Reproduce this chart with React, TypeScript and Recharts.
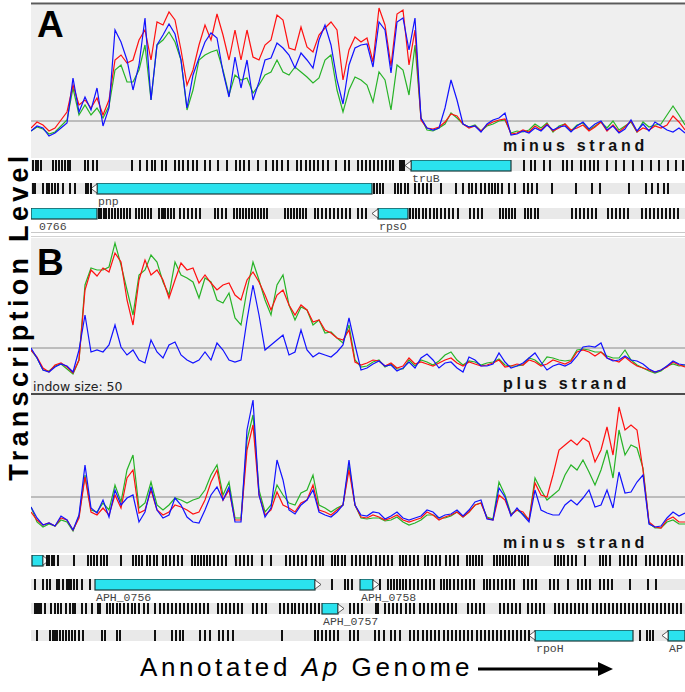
import React from "react";
import {
  LineChart, Line, XAxis, YAxis, ReferenceLine,
  ScatterChart, Scatter, ReferenceArea,
} from "recharts";

// panel A, minus strand (signal units above the panel floor)
const aRed = [
  22, 28, 25, 19, 22, 30, 38, 65, 45, 50,
  42, 52, 35, 50, 90, 95, 87, 90, 110, 120,
  90, 128, 125, 138, 130, 100, 65, 80, 105, 125,
  110, 136, 115, 90, 120, 90, 120, 93, 90, 105,
  110, 135, 130, 102, 100, 123, 103, 98, 115, 122,
  128, 120, 70, 100, 113, 108, 112, 88, 142, 125,
  84, 136, 140, 85, 120, 30, 22, 21, 23, 28,
  36, 34, 26, 22, 24, 19, 25, 28, 30, 31,
  16, 17, 20, 18, 24, 20, 26, 19, 22, 26,
  20, 22, 25, 19, 23, 28, 19, 25, 18, 23,
  29, 18, 22, 20, 24, 22, 25, 34, 28, 20,
];
const aGreen = [
  19, 23, 21, 16, 18, 24, 30, 62, 35, 45,
  35, 42, 32, 44, 80, 85, 68, 68, 80, 105,
  50, 105, 110, 118, 108, 90, 40, 60, 90, 95,
  98, 100, 80, 55, 75, 70, 72, 57, 65, 75,
  78, 90, 78, 75, 83, 78, 73, 67, 72, 90,
  95, 60, 38, 60, 73, 70, 65, 48, 78, 70,
  40, 85, 80, 55, 105, 32, 20, 19, 22, 26,
  37, 32, 26, 23, 25, 19, 24, 26, 29, 30,
  17, 19, 18, 20, 26, 22, 27, 18, 24, 26,
  19, 25, 27, 20, 24, 28, 22, 29, 20, 24,
  28, 18, 28, 23, 25, 26, 35, 44, 35, 25,
];
const aBlue = [
  19, 24, 22, 14, 17, 22, 27, 72, 38, 53,
  40, 62, 24, 42, 120, 108, 90, 60, 85, 132,
  50, 105, 115, 126, 116, 90, 42, 75, 92, 108,
  117, 112, 78, 53, 93, 62, 90, 50, 68, 90,
  92, 107, 102, 95, 82, 97, 90, 82, 110, 125,
  105, 70, 46, 85, 102, 105, 106, 83, 128, 120,
  77, 128, 132, 100, 132, 32, 22, 20, 22, 42,
  70, 50, 26, 23, 24, 18, 26, 30, 32, 37,
  15, 16, 19, 17, 22, 19, 25, 20, 23, 24,
  18, 24, 28, 21, 26, 29, 20, 24, 17, 21,
  30, 19, 26, 19, 28, 24, 20, 18, 22, 17,
];

// panel B, plus strand
const bPlusRed = [
  42, 35, 24, 20, 27, 29, 25, 19, 32, 102,
  122, 116, 124, 120, 139, 130, 92, 67, 112, 132,
  117, 122, 112, 94, 112, 129, 122, 124, 109, 117,
  109, 102, 107, 109, 97, 92, 112, 120, 110, 97,
  82, 97, 102, 87, 77, 87, 82, 70, 72, 62,
  59, 54, 52, 62, 30, 27, 29, 32, 31, 26,
  29, 24, 26, 34, 28, 30, 28, 26, 29, 32,
  34, 29, 26, 30, 28, 26, 27, 29, 32, 25,
  26, 28, 27, 32, 30, 26, 28, 32, 30, 28,
  31, 40, 42, 40, 36, 40, 34, 32, 30, 35,
  30, 26, 24, 22, 20, 22, 25, 30, 27, 25,
];
const bPlusGreen = [
  42, 34, 22, 21, 26, 28, 23, 18, 32, 107,
  124, 122, 122, 125, 149, 127, 102, 77, 117, 122,
  137, 130, 110, 97, 130, 117, 114, 110, 94, 114,
  110, 92, 89, 99, 74, 67, 102, 130, 112, 92,
  77, 107, 117, 87, 72, 85, 82, 67, 72, 59,
  60, 54, 49, 67, 32, 25, 26, 30, 32, 25,
  28, 23, 23, 32, 26, 32, 30, 27, 31, 37,
  40, 32, 27, 31, 30, 27, 29, 30, 33, 27,
  26, 26, 27, 34, 32, 27, 35, 34, 32, 31,
  32, 42, 43, 42, 40, 40, 36, 34, 34, 42,
  32, 27, 24, 21, 19, 21, 26, 28, 26, 27,
];
const bPlusBlue = [
  44, 34, 22, 20, 25, 28, 26, 20, 42, 77,
  40, 42, 40, 47, 67, 45, 37, 42, 32, 29,
  52, 40, 34, 47, 50, 37, 32, 29, 32, 40,
  32, 49, 42, 32, 30, 32, 72, 107, 77, 42,
  47, 52, 57, 37, 40, 62, 42, 35, 39, 37,
  35, 40, 47, 74, 47, 22, 24, 28, 31, 26,
  27, 21, 24, 30, 24, 34, 38, 32, 24, 29,
  30, 24, 20, 35, 32, 26, 26, 28, 39, 30,
  24, 26, 29, 34, 39, 30, 22, 26, 28, 26,
  29, 36, 45, 46, 45, 49, 34, 31, 32, 36,
  32, 31, 28, 23, 20, 22, 26, 31, 28, 27,
];

// panel B, minus strand
const bMinusRed = [
  38, 30, 25, 27, 24, 32, 30, 20, 32, 73,
  38, 35, 42, 35, 55, 42, 72, 80, 37, 40,
  60, 40, 35, 38, 45, 43, 40, 36, 38, 50,
  68, 80, 50, 60, 30, 30, 100, 125, 55, 35,
  40, 58, 45, 42, 38, 47, 50, 65, 40, 38,
  35, 40, 45, 80, 45, 33, 32, 35, 33, 30,
  32, 35, 30, 28, 30, 32, 38, 35, 30, 33,
  35, 38, 33, 38, 45, 47, 32, 30, 55, 50,
  35, 40, 38, 30, 67, 55, 53, 75, 100, 105,
  110, 105, 112, 108, 88, 100, 123, 95, 143, 120,
  125, 120, 80, 28, 23, 22, 30, 33, 28, 28,
];
const bMinusGreen = [
  43, 28, 23, 26, 24, 30, 28, 19, 34, 75,
  40, 38, 47, 40, 65, 48, 80, 95, 42, 47,
  68, 45, 40, 45, 52, 50, 47, 50, 52, 60,
  75, 85, 55, 68, 32, 32, 110, 135, 60, 38,
  45, 65, 55, 47, 45, 57, 60, 75, 45, 42,
  38, 42, 45, 85, 45, 32, 31, 32, 32, 29,
  30, 33, 28, 25, 27, 30, 35, 35, 32, 32,
  34, 38, 33, 38, 45, 47, 33, 31, 68, 55,
  36, 40, 36, 30, 72, 60, 50, 55, 60, 75,
  85, 80, 90, 78, 65, 80, 100, 72, 120, 95,
  105, 102, 82, 27, 22, 22, 28, 30, 26, 26,
];
const bMinusBlue = [
  43, 32, 25, 27, 24, 34, 30, 20, 35, 85,
  42, 37, 50, 33, 60, 45, 52, 55, 28, 38,
  63, 40, 32, 35, 52, 45, 33, 28, 27, 40,
  55, 63, 50, 63, 28, 28, 120, 150, 55, 33,
  42, 90, 70, 40, 36, 45, 50, 60, 38, 35,
  33, 38, 45, 90, 45, 35, 34, 38, 37, 31,
  34, 38, 32, 30, 32, 34, 40, 38, 32, 35,
  36, 40, 34, 40, 48, 50, 31, 30, 62, 53,
  34, 42, 35, 28, 60, 40, 37, 35, 35, 45,
  50, 45, 52, 60, 43, 45, 60, 42, 78, 57,
  58, 68, 75, 26, 23, 24, 32, 38, 34, 37,
];

// ORF ticks per track row (genome position on the view)
const aRow1Ticks = [2, 5, 7, 10, 22, 25, 28, 31, 34, 37, 39, 54, 57, 62, 66, 101, 109, 116, 121, 124, 131, 135, 144, 148, 152, 157, 162, 166, 174, 179, 187, 196, 205, 209, 213, 218, 227, 235, 242, 246, 251, 257, 266, 270, 275, 279, 283, 287, 292, 297, 305, 314, 318, 327, 331, 335, 339, 343, 347, 351, 355, 359, 362, 369, 371, 373, 493, 500, 504, 513, 519, 532, 536, 541, 550, 554, 559, 563, 567, 576, 585, 593, 602, 611, 620, 628, 637, 645, 652];
const aRow2Ticks = [2, 4, 12, 16, 18, 21, 24, 27, 32, 39, 44, 55, 57, 60, 343, 346, 349, 352, 364, 367, 370, 374, 377, 384, 388, 392, 396, 400, 410, 425, 432, 438, 441, 445, 450, 454, 458, 461, 464, 467, 471, 478, 484, 493, 497, 501, 506, 521, 545, 561, 569, 598, 615, 621, 627, 633, 637];
const aRow3Ticks = [68, 70, 73, 75, 78, 81, 84, 87, 90, 93, 96, 99, 105, 108, 111, 114, 117, 120, 128, 131, 132, 133, 134, 137, 140, 143, 149, 153, 157, 161, 165, 169, 184, 187, 191, 195, 203, 206, 209, 212, 215, 218, 221, 224, 227, 230, 233, 236, 254, 257, 260, 263, 266, 269, 272, 275, 284, 287, 291, 295, 299, 303, 307, 311, 315, 319, 327, 331, 335, 379, 382, 385, 388, 392, 395, 399, 403, 406, 410, 414, 418, 422, 427, 439, 443, 447, 451, 469, 472, 475, 478, 481, 484, 494, 497, 500, 504, 507, 541, 545, 549, 553, 557, 561, 565, 577, 581, 585, 589, 593, 597, 611, 615, 619, 623, 627, 631, 635, 639, 643, 647];
const bRow1Ticks = [16, 18, 21, 23, 27, 43, 57, 60, 63, 66, 70, 73, 76, 90, 102, 105, 108, 111, 116, 119, 123, 126, 132, 135, 139, 143, 147, 151, 161, 164, 167, 170, 173, 176, 179, 183, 187, 191, 195, 205, 209, 213, 217, 221, 231, 240, 255, 259, 263, 267, 271, 275, 281, 285, 289, 292, 301, 304, 307, 311, 314, 321, 325, 329, 333, 337, 340, 345, 349, 353, 357, 361, 369, 372, 375, 379, 383, 387, 394, 397, 401, 405, 409, 415, 419, 423, 427, 436, 439, 442, 445, 448, 451, 463, 466, 469, 472, 475, 478, 481, 484, 488, 491, 494, 497, 524, 527, 530, 533, 537, 541, 545, 554, 569, 572, 575, 579, 589, 593, 597, 601, 605, 615, 619, 623, 627, 631, 635, 639, 643, 647, 651];
const bRow2Ticks = [4, 12, 16, 19, 26, 28, 32, 36, 38, 40, 43, 46, 51, 59, 301, 314, 317, 321, 349, 357, 360, 363, 366, 369, 372, 375, 379, 383, 387, 391, 395, 399, 403, 410, 413, 416, 419, 423, 427, 431, 435, 439, 443, 453, 456, 459, 463, 467, 471, 475, 479, 483, 493, 497, 501, 505, 519, 523, 527, 537, 547, 551, 555, 559, 569, 573, 577, 581, 599, 617, 625];
const bRow3Ticks = [4, 6, 8, 10, 14, 20, 24, 27, 30, 35, 39, 42, 44, 51, 55, 61, 67, 69, 76, 79, 82, 86, 89, 93, 97, 101, 104, 108, 113, 117, 124, 129, 133, 137, 141, 145, 149, 153, 157, 161, 165, 169, 173, 177, 187, 191, 195, 199, 203, 207, 211, 222, 226, 231, 235, 249, 253, 257, 261, 264, 268, 272, 276, 280, 284, 288, 319, 323, 327, 331, 345, 347, 354, 358, 362, 366, 370, 375, 379, 383, 389, 393, 397, 401, 405, 409, 413, 417, 421, 425, 437, 441, 445, 449, 453, 469, 473, 477, 481, 485, 489, 497, 501, 505, 509, 513, 524, 528, 532, 536, 540, 544, 548, 552, 556, 562, 566, 570, 574, 578, 582, 586, 590, 594, 598, 602, 606, 610, 614, 618, 622, 626, 630, 634, 638, 642, 646, 650];
const bRow4Ticks = [6, 19, 22, 24, 26, 29, 32, 35, 38, 41, 44, 48, 52, 71, 74, 86, 89, 124, 141, 145, 149, 152, 169, 174, 179, 188, 192, 197, 202, 251, 284, 287, 291, 295, 299, 303, 307, 319, 323, 327, 344, 348, 353, 360, 364, 369, 379, 383, 387, 392, 396, 400, 404, 408, 413, 417, 421, 425, 429, 433, 437, 441, 446, 450, 454, 458, 462, 466, 470, 474, 478, 482, 486, 490, 494, 498, 609, 616, 619, 622];

// annotated genes: name, start, end, strand
const aRow1Genes = [{ name: "truB", start: 380, end: 480, dir: "L" }];
const aRow2Genes = [{ name: "pnp", start: 66, end: 341, dir: "L" }];
const aRow3Genes = [
  { name: "0766", start: 0, end: 66, dir: "" },
  { name: "rpsO", start: 347, end: 377, dir: "L" },
];
const bRow1Genes = [{ name: "", start: 1, end: 12, dir: "R" }];
const bRow2Genes = [
  { name: "APH_0756", start: 64, end: 284, dir: "R" },
  { name: "APH_0758", start: 329, end: 342, dir: "R" },
];
const bRow3Genes = [{ name: "APH_0757", start: 291, end: 307, dir: "R" }];
const bRow4Genes = [
  { name: "rpoH", start: 504, end: 602, dir: "L" },
  { name: "AP", start: 637, end: 654, dir: "L" },
];

const PLOT_LEFT = 31;
const PLOT_W = 654;
const SANS = "'Liberation Sans', Arial, sans-serif";

function SignalPanel({ top, height, max, base, red, green, blue }: any) {
  const data = red.map((r: number, i: number) => ({ i, red: r, green: green[i], blue: blue[i] }));
  return (
    <div style={{ position: "absolute", left: PLOT_LEFT, top, width: PLOT_W, height }}>
      <LineChart width={PLOT_W} height={height} data={data} margin={{ top: 0, right: 0, bottom: 0, left: 0 }}>
        <XAxis dataKey="i" type="number" domain={[0, data.length - 1]} hide />
        <YAxis type="number" domain={[0, max]} hide width={0} allowDataOverflow />
        <ReferenceLine y={base} stroke="#8a8a8a" strokeWidth={1} />
        <Line type="linear" dataKey="green" stroke="#27b327" strokeWidth={1.2} dot={false} isAnimationActive={false} />
        <Line type="linear" dataKey="red" stroke="#ff1010" strokeWidth={1.2} dot={false} isAnimationActive={false} />
        <Line type="linear" dataKey="blue" stroke="#1212ff" strokeWidth={1.2} dot={false} isAnimationActive={false} />
      </LineChart>
    </div>
  );
}

const geneShape = (g: any) => (props: any) => {
  const { x, y, width, height } = props;
  const mid = y + height / 2;
  let tri = "";
  if (g.dir === "L") tri = `${x},${y + 1} ${x - 6},${mid} ${x},${y + height - 1}`;
  if (g.dir === "R") tri = `${x + width},${y + 1} ${x + width + 6},${mid} ${x + width},${y + height - 1}`;
  return (
    <g>
      <rect x={x} y={y} width={width} height={height} fill="#2ae2ee" stroke="#1c3a3a" strokeWidth={1.2} />
      {tri && <polygon points={tri} fill="#fff" stroke="#333" strokeWidth={0.8} />}
      {g.name && (
        <text x={x + (g.start <= 0 ? 8 : 1)} y={y + height + 11} fontSize={11.5}
          fontFamily="'Liberation Mono', monospace" fill="#444">{g.name}</text>
      )}
    </g>
  );
};

// one short black bar per ORF
const tickShape = (props: any) => (
  <rect x={props.cx - 0.75} y={props.cy - 5.5} width={1.5} height={11} fill="#111" shapeRendering="crispEdges" />
);

function GeneRow({ top, ticks, genes }: any) {
  const data = ticks.map((p: number) => ({ p, y: 0.5 }));
  return (
    <div style={{ position: "absolute", left: PLOT_LEFT, top, width: PLOT_W, height: 26 }}>
      <div style={{ position: "absolute", left: 0, top: 0, width: PLOT_W, height: 11, background: "#e9e9e9" }} />
      <div style={{ position: "absolute", left: 0, top: 0 }}>
        <ScatterChart width={PLOT_W} height={26} margin={{ top: 0, right: 0, bottom: 15, left: 0 }}>
          <XAxis dataKey="p" type="number" domain={[0, PLOT_W]} hide allowDataOverflow />
          <YAxis dataKey="y" type="number" domain={[0, 1]} hide width={0} />
          {genes.map((g: any) => (
            <ReferenceArea key={g.name + g.start} x1={g.start} x2={g.end} y1={0} y2={1}
              ifOverflow="visible" shape={geneShape(g)} />
          ))}
          <Scatter data={data} shape={tickShape} isAnimationActive={false} />
        </ScatterChart>
      </div>
    </div>
  );
}

export default function App() {
  const strandText = { fontSize: 16, fontWeight: "bold", fontFamily: SANS, letterSpacing: 3.7, fill: "#111" } as any;
  return (
    <div style={{ position: "absolute", left: 0, top: 0, width: 685, height: 692, background: "#fff", overflow: "hidden" }}>
      <div style={{ position: "absolute", left: PLOT_LEFT, top: 5, width: PLOT_W, height: 153, background: "#efefef" }} />
      <div style={{ position: "absolute", left: PLOT_LEFT, top: 238, width: PLOT_W, height: 155, background: "#efefef" }} />
      <div style={{ position: "absolute", left: PLOT_LEFT, top: 395, width: PLOT_W, height: 158, background: "#efefef" }} />

      <SignalPanel top={5} height={145} max={145} base={29} red={aRed} green={aGreen} blue={aBlue} />
      <SignalPanel top={240} height={152} max={152} base={44} red={bPlusRed} green={bPlusGreen} blue={bPlusBlue} />
      <SignalPanel top={397} height={153} max={153} base={53} red={bMinusRed} green={bMinusGreen} blue={bMinusBlue} />

      <GeneRow top={160} ticks={aRow1Ticks} genes={aRow1Genes} />
      <GeneRow top={183} ticks={aRow2Ticks} genes={aRow2Genes} />
      <GeneRow top={208} ticks={aRow3Ticks} genes={aRow3Genes} />
      <GeneRow top={555} ticks={bRow1Ticks} genes={bRow1Genes} />
      <GeneRow top={579} ticks={bRow2Ticks} genes={bRow2Genes} />
      <GeneRow top={603} ticks={bRow3Ticks} genes={bRow3Genes} />
      <GeneRow top={630} ticks={bRow4Ticks} genes={bRow4Genes} />

      <svg width={685} height={692} style={{ position: "absolute", left: 0, top: 0, pointerEvents: "none" }}>
        <line x1={PLOT_LEFT} x2={685} y1={3.5} y2={3.5} stroke="#5a5a5a" strokeWidth={2} />
        <line x1={PLOT_LEFT} x2={685} y1={232.5} y2={232.5} stroke="#c8c8c8" strokeWidth={1} />
        <line x1={PLOT_LEFT} x2={685} y1={236.5} y2={236.5} stroke="#d2d2d2" strokeWidth={1} />
        <line x1={PLOT_LEFT} x2={685} y1={394} y2={394} stroke="#111" strokeWidth={1.6} />

        <text x={37} y={37} fontSize={37} fontWeight="bold" fontFamily={SANS} fill="#000">A</text>
        <text x={37} y={275} fontSize={37} fontWeight="bold" fontFamily={SANS} fill="#000">B</text>

        <text x={503} y={151} {...strandText}>minus strand</text>
        <text x={503} y={389} {...strandText}>plus strand</text>
        <text x={503} y={548} {...strandText}>minus strand</text>
        <text x={33} y={391} fontSize={12.5} fontFamily="'DejaVu Sans', sans-serif" fill="#222">indow size: 50</text>

        <text transform="translate(28,316) rotate(-90)" textAnchor="middle" fontSize={27} fontWeight="bold"
          fontFamily={SANS} letterSpacing={4.3} fill="#000">Transcription Level</text>

        <text x={140} y={676} fontSize={26} fontFamily={SANS} letterSpacing={3.6} fill="#000">
          Annotated <tspan fontStyle="italic">Ap</tspan> Genome
        </text>
        <line x1={478} y1={669} x2={602} y2={669} stroke="#000" strokeWidth={3} />
        <polygon points="598,662 613,669 598,676" fill="#000" />
      </svg>
    </div>
  );
}
